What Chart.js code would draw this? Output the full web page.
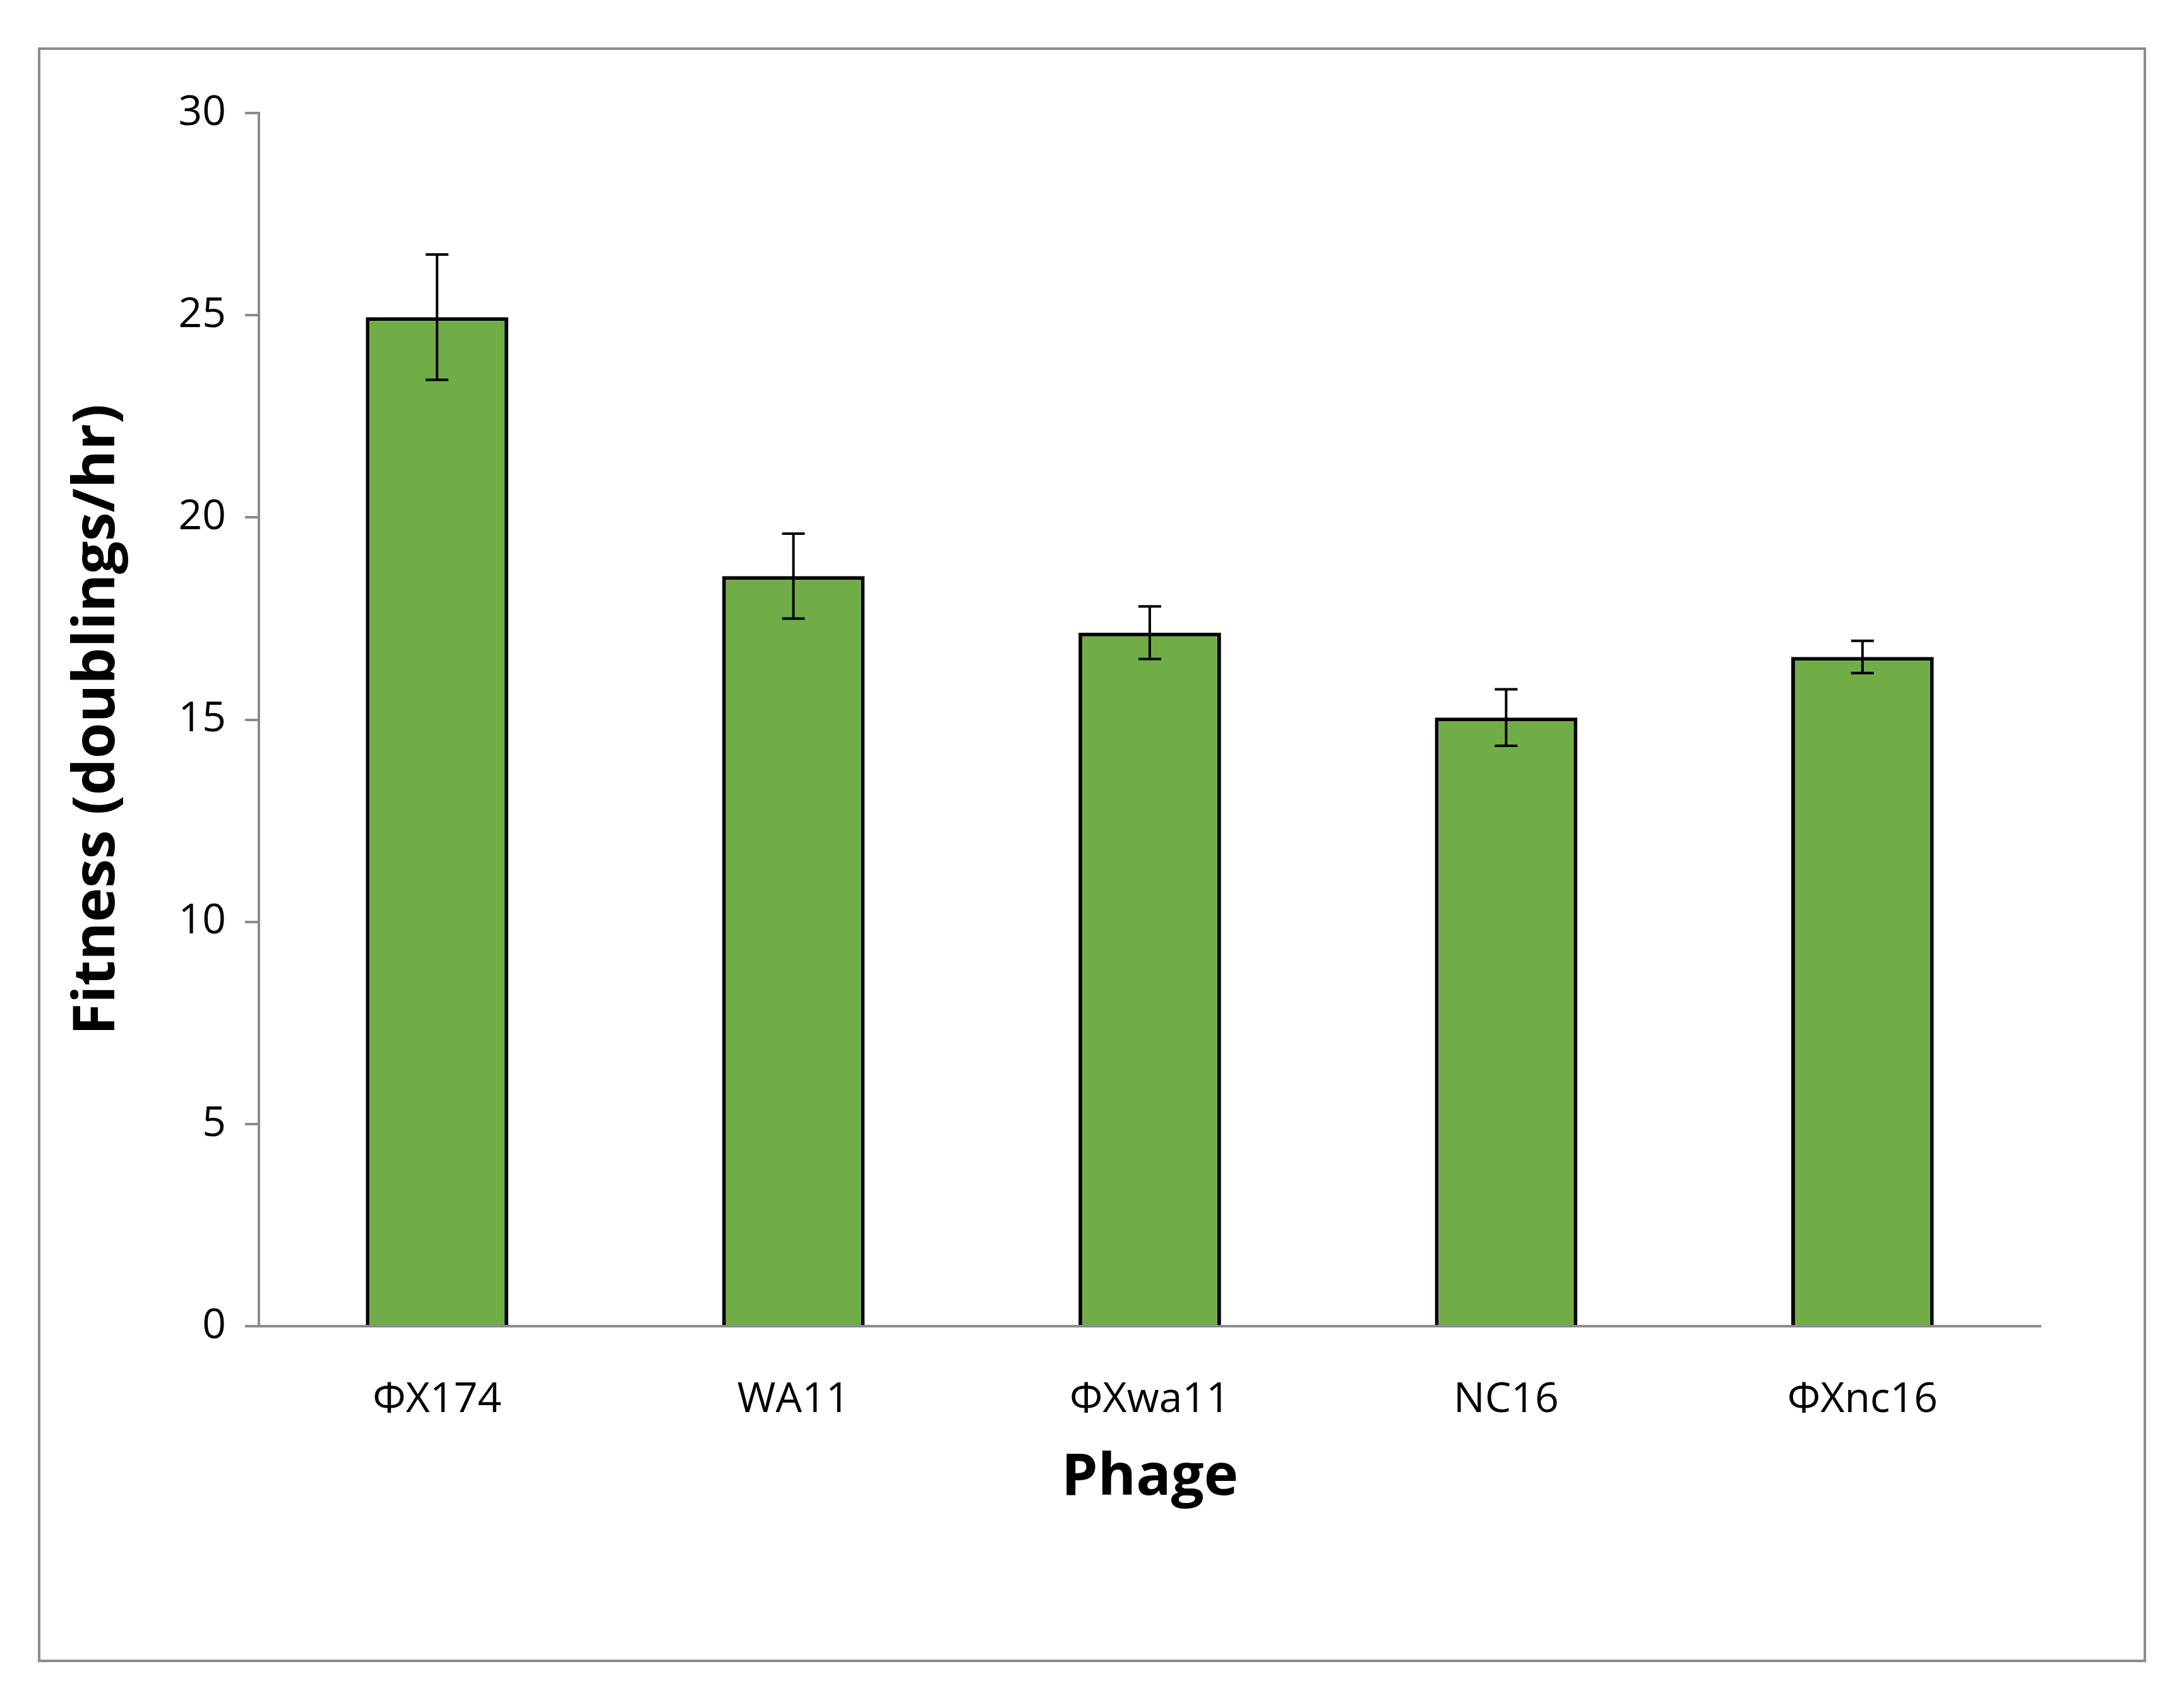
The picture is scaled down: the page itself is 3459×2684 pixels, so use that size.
<!DOCTYPE html>
<html>
<head>
<meta charset="utf-8">
<script src="https://cdn.jsdelivr.net/npm/chart.js@4"></script>
<style>
  html, body { margin: 0; padding: 0; background: #fff; }
  canvas { display: block; }
</style>
</head>
<body>
<canvas id="fitness" width="3459" height="2684"></canvas>
<script>
  const phages = ["ΦX174", "WA11", "ΦXwa11", "NC16", "ΦXnc16"];
  const fitness = [24.95, 18.55, 17.15, 15.05, 16.55];
  const fitnessErr = [1.55, 1.05, 0.65, 0.7, 0.4];
  const yTicks = [0, 5, 10, 15, 20, 25, 30];

  const font = "'Open Sans', 'Liberation Sans', sans-serif";

  // outer frame around the whole figure
  const framePlugin = {
    id: "frame",
    afterDraw(chart) {
      const ctx = chart.ctx;
      ctx.save();
      ctx.strokeStyle = "#8c8c8c";
      ctx.lineWidth = 4;
      ctx.strokeRect(62, 77, 3335, 2553);
      ctx.restore();
    },
  };

  // error bars drawn from the data arrays through the scales
  const errorBarPlugin = {
    id: "errorBars",
    afterDatasetsDraw(chart) {
      const ctx = chart.ctx;
      const x = chart.scales.x;
      const y = chart.scales.y;
      ctx.save();
      ctx.strokeStyle = "#000";
      ctx.lineWidth = 4;
      fitness.forEach((v, i) => {
        const px = x.getPixelForValue(i);
        const top = y.getPixelForValue(v + fitnessErr[i]);
        const bot = y.getPixelForValue(v - fitnessErr[i]);
        ctx.beginPath();
        ctx.moveTo(px, top); ctx.lineTo(px, bot);
        ctx.moveTo(px - 18, top); ctx.lineTo(px + 18, top);
        ctx.moveTo(px - 18, bot); ctx.lineTo(px + 18, bot);
        ctx.stroke();
      });
      ctx.restore();
    },
  };

  new Chart(document.getElementById("fitness").getContext("2d"), {
    type: "bar",
    data: {
      labels: phages,
      datasets: [{
        data: fitness,
        backgroundColor: "#70AD47",
        borderColor: "#000",
        borderWidth: 6,
        categoryPercentage: 1,
        barPercentage: 0.4,
      }],
    },
    options: {
      responsive: false,
      animation: false,
      devicePixelRatio: 1,
      layout: { padding: { left: 100, top: 179, right: 227, bottom: 284 } },
      plugins: { legend: { display: false }, tooltip: { enabled: false } },
      scales: {
        x: {
          grid: { display: false },
          border: { color: "#8c8c8c", width: 4 },
          ticks: { color: "#000", padding: 70, font: { family: font, size: 66 } },
          title: {
            display: true, text: "Phage", color: "#000", padding: { top: 60 },
            font: { family: font, size: 92, weight: "bold" },
          },
          afterFit(s) { s.height = 300; },
        },
        y: {
          min: 0, max: 30,
          afterBuildTicks(s) { s.ticks = yTicks.map(v => ({ value: v })); },
          grid: { drawOnChartArea: false, color: "#8c8c8c", lineWidth: 4, tickLength: 22 },
          border: { color: "#8c8c8c", width: 4 },
          ticks: { color: "#000", padding: 30, font: { family: font, size: 66 } },
          title: {
            display: true, text: "Fitness (doublings/hr)", color: "#000", padding: 0,
            font: { family: font, size: 92, weight: "bold" },
          },
          afterFit(s) { s.width = 310; },
        },
      },
    },
    plugins: [framePlugin, errorBarPlugin],
  });
</script>
</body>
</html>
